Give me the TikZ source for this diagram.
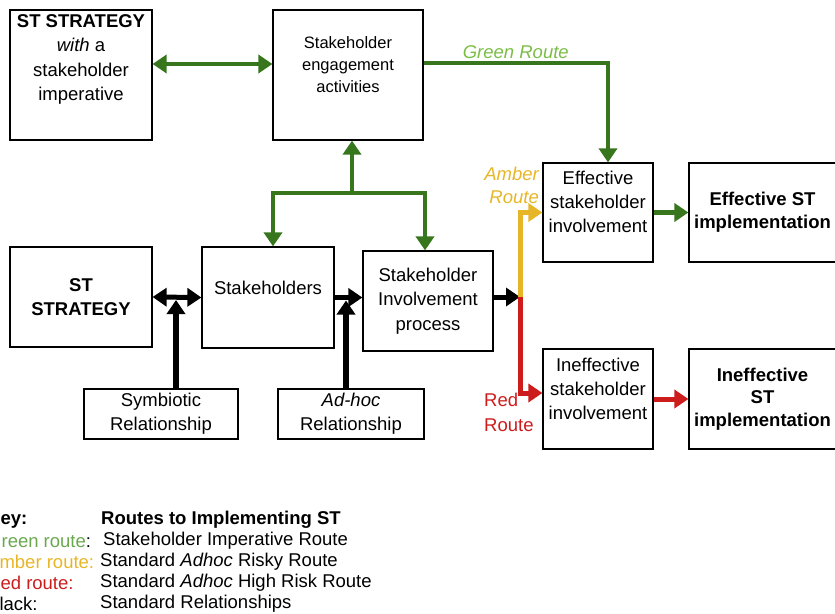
\documentclass[tikz,border=0pt]{standalone}
\usepackage{fontspec}
\setmainfont{Liberation Sans}
\usetikzlibrary{arrows.meta, positioning}

\definecolor{routegreen}{RGB}{56,118,29}
\definecolor{labelgreen}{RGB}{122,190,70}
\definecolor{keygreen}{RGB}{106,168,79}
\definecolor{routeamber}{RGB}{231,182,40}
\definecolor{routered}{RGB}{204,28,28}

\begin{document}
\begin{tikzpicture}[
    x=1pt, y=-1pt,
    >={Triangle[length=14pt, width=18pt]},
    box/.style={draw, line width=1.2pt, inner sep=0pt, align=center,
                font=\fontsize{18.5}{24.5}\selectfont},
    txt/.style={inner sep=0pt, align=center, font=\fontsize{18.5}{24}\selectfont},
    greenroute/.style={draw=routegreen, line width=4.5pt},
    amberroute/.style={draw=routeamber, line width=5pt},
    redroute/.style={draw=routered, line width=5pt},
    blackrel/.style={draw=black, line width=5pt},
    keytext/.style={anchor=west, inner sep=0pt, font=\fontsize{18.5}{21}\selectfont},
]
\useasboundingbox (0,0) rectangle (835,613);

% Top row
\node[box, minimum width=142, minimum height=130,
      label={[txt, font=\fontsize{18.5}{24.5}\selectfont, yshift=15.5pt]center:\textbf{ST STRATEGY}\\\textit{with} a\\stakeholder\\imperative}]
      (imp) at (81,75) {};
\node[box, minimum width=150, minimum height=130,
      label={[txt, font=\fontsize{16.5}{22}\selectfont, yshift=10pt]center:Stakeholder\\engagement\\activities}]
      (eng) at (348,75) {};

% Middle row
\node[box, minimum width=142, minimum height=100] (st) at (81,297) {\textbf{ST}\\\textbf{STRATEGY}};
\node[box, minimum width=132, minimum height=101,
      label={[txt, yshift=10pt]center:Stakeholders}] (stk) at (268,297.5) {};
\node[box, minimum width=130, minimum height=100] (inv) at (428,301) {Stakeholder\\Involvement\\process};

% Relationship boxes
\node[box, minimum width=154, minimum height=50, font=\fontsize{18.5}{24}\selectfont] (sym) at (161,414) {Symbiotic\\Relationship};
\node[box, minimum width=146, minimum height=50, font=\fontsize{18.5}{24}\selectfont] (adhoc) at (351,414) {\textit{Ad-hoc}\\Relationship};

% Outcomes
\node[box, minimum width=110, minimum height=99,
      label={[txt, yshift=11pt]center:Effective\\stakeholder\\involvement}] (eff) at (598,212.5) {};
\node[box, minimum width=147, minimum height=99, font=\fontsize{18.5}{23}\selectfont] (effimp) at (762.5,212.5) {\textbf{Effective ST}\\\textbf{implementation}};
\node[box, minimum width=110, minimum height=100,
      label={[txt, yshift=10pt]center:Ineffective\\stakeholder\\involvement}] (ineff) at (598,399) {};
\node[box, minimum width=147, minimum height=100, font=\fontsize{18.5}{22.5}\selectfont] (ineffimp) at (762.5,399) {\textbf{Ineffective}\\\textbf{ST}\\\textbf{implementation}};

% Green links
\draw[greenroute, <->] ([yshift=11pt]imp.east) -- ([yshift=11pt]eng.west);
\draw[greenroute, ->] ([yshift=12pt]eng.east) -| node[pos=0.25, above=-1pt, font=\fontsize{18.5}{22}\selectfont\itshape, text=labelgreen] (greenlbl) {Green Route} ([xshift=10pt]eff.north);
\coordinate (fork) at (352,193);
\draw[greenroute, ->] (fork) -- (eng.south -| fork);
\draw[greenroute, ->] (fork) -| ([xshift=5pt]stk.north);
\draw[greenroute, ->] (fork) -| ([xshift=-3pt]inv.north);
\draw[greenroute, ->] (eff.east) -- (effimp.west);

% Black relationships
\draw[blackrel, <->] (st.east) -- (stk.west);
\draw[blackrel, line width=6.5pt, ->] ([xshift=15pt]sym.north) -- ([xshift=15pt, yshift=-3pt]sym.north |- st.east);
\draw[blackrel, ->] (stk.east) -- (stk.east -| inv.west);
\draw[blackrel, line width=6.5pt, ->] ([xshift=-5pt]adhoc.north) -- ([xshift=-5pt, yshift=-3pt]adhoc.north |- stk.east);
\coordinate (split) at (520,297);
\draw[blackrel, ->] (inv.east |- split) -- (split);

% Amber and red routes
\draw[amberroute, ->] (split) |- (eff.west);
\draw[redroute, ->] (split) |- ([yshift=6pt]ineff.west);
\draw[redroute, ->] (ineff.east) -- (ineffimp.west);

% Route labels
\node[anchor=east, inner sep=0pt, align=right, text=routeamber, font=\fontsize{18.5}{23}\selectfont\itshape] (amberlbl) at (539,185) {Amber\\Route};
\node[anchor=west, inner sep=0pt, align=left, text=routered, font=\fontsize{18.5}{25}\selectfont] (redlbl) at (484,412) {Red\\Route};

% Key
\node[keytext] (keyhead) at (-13,520) {\textbf{Key:}};
\node[keytext] (keytitle) at (101,520) {\textbf{Routes to Implementing ST}};
\node[keytext] (keyg) at (-13,541) {\textcolor{keygreen}{Green route}:};
\node[keytext] (keygtext) at (103,541) {Stakeholder Imperative Route};
\node[keytext] (keya) at (-13,562) {\textcolor{routeamber}{Amber route:}};
\node[keytext] (keyatext) at (100,562) {Standard \textit{Adhoc} Risky Route};
\node[keytext] (keyr) at (-13,583) {\textcolor{routered}{Red route:}};
\node[keytext] (keyrtext) at (100,583) {Standard \textit{Adhoc} High Risk Route};
\node[keytext] (keyb) at (-13,604) {Black:};
\node[keytext] (keybtext) at (100,604) {Standard Relationships};

\end{tikzpicture}
\end{document}
